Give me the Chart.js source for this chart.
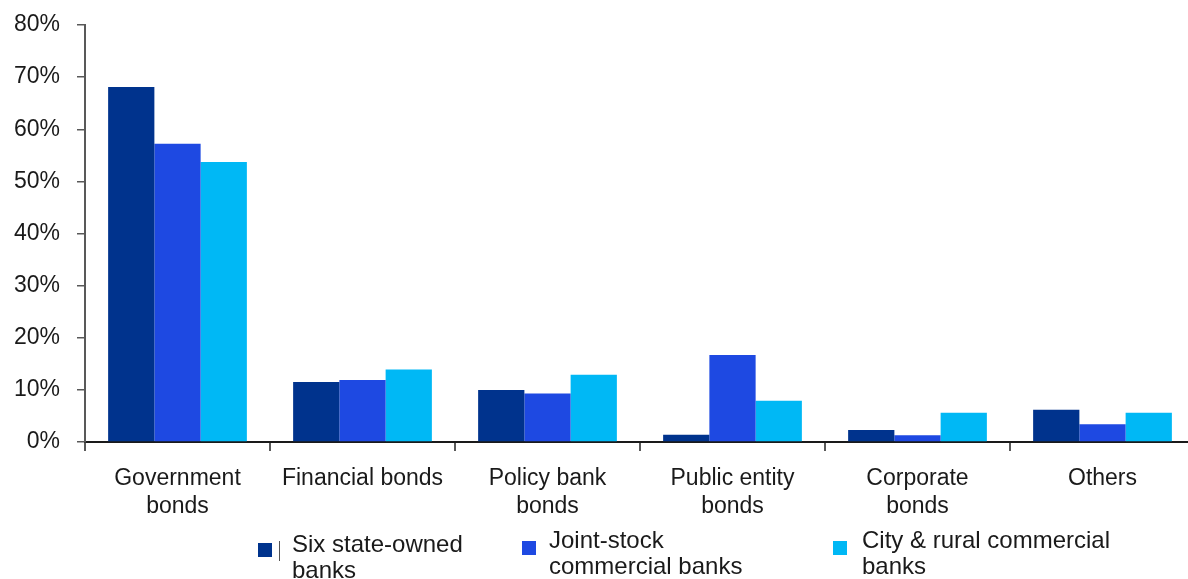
<!DOCTYPE html>
<html>
<head>
<meta charset="utf-8">
<script src="https://cdn.jsdelivr.net/npm/chart.js@4"></script>
<style>
    html, body { margin: 0; padding: 0; background: #fff; overflow: hidden; }
    .wrap { position: relative; width: 1196px; height: 579px; }
    .legend-item { position: absolute; font: 24px "Liberation Sans", Arial, sans-serif; color: #1a1a1a; line-height: 26px; }
    .legend-box { position: absolute; width: 14px; height: 14px; }
</style>
</head>
<body>
<div class="wrap">
    <canvas id="bondChart" width="1196" height="579"></canvas>

    <!-- legend -->
    <div class="legend-box" style="left:258px; top:543px; background:#00338D"></div>
    <div class="legend-box" style="left:279px; top:541px; width:1px; height:20px; background:#555"></div>
    <div class="legend-item" style="left:292px; top:531px">Six state-owned<br>banks</div>
    <div class="legend-box" style="left:522px; top:541px; background:#1E49E2"></div>
    <div class="legend-item" style="left:549px; top:527px">Joint-stock<br>commercial banks</div>
    <div class="legend-box" style="left:833px; top:541px; background:#00B8F5"></div>
    <div class="legend-item" style="left:862px; top:527px">City &amp; rural commercial<br>banks</div>
</div>

<script>
// Bond holdings by bank type, share of each group's bond portfolio (%)
const categories = [
    ['Government', 'bonds'],
    'Financial bonds',
    ['Policy bank', 'bonds'],
    ['Public entity', 'bonds'],
    ['Corporate', 'bonds'],
    'Others'
];
const sixStateOwned = [68.1, 11.5, 10.0, 1.4, 2.3, 6.2];
const jointStock = [57.2, 11.9, 9.3, 16.7, 1.3, 3.4];
const cityRural = [53.7, 13.9, 12.9, 7.9, 5.6, 5.6];
const yTicks = [0, 10, 20, 30, 40, 50, 60, 70, 80];

const axisFont = { family: '"Liberation Sans", Arial, sans-serif', size: 23, lineHeight: 1.2 };

document.addEventListener('DOMContentLoaded', function() {
    const ctx = document.getElementById('bondChart').getContext('2d');

    new Chart(ctx, {
        type: 'bar',
        data: {
            labels: categories,
            datasets: [
                { label: 'Six state-owned banks', data: sixStateOwned, backgroundColor: '#00338D' },
                { label: 'Joint-stock commercial banks', data: jointStock, backgroundColor: '#1E49E2' },
                { label: 'City & rural commercial banks', data: cityRural, backgroundColor: '#00B8F5' }
            ]
        },
        options: {
            responsive: false,
            animation: false,
            layout: { padding: { top: 25, right: 1, left: 0, bottom: 0 } },
            datasets: {
                bar: { categoryPercentage: 0.75, barPercentage: 1.0, borderWidth: 0 }
            },
            plugins: {
                legend: { display: false },
                tooltip: { enabled: false }
            },
            scales: {
                x: {
                    afterFit: function(scale) { scale.height = 137; },
                    border: { color: '#1a1a1a', width: 2 },
                    grid: {
                        offset: true,
                        drawOnChartArea: false,
                        tickLength: 9,
                        color: '#595959',
                        lineWidth: 2
                    },
                    ticks: {
                        color: '#1a1a1a',
                        font: axisFont,
                        padding: 14,
                        maxRotation: 0,
                        autoSkip: false
                    }
                },
                y: {
                    min: 0,
                    max: 80,
                    afterFit: function(scale) {
                        // fixed axis width; top label may overhang the layout padding
                        scale.width = 85;
                        scale.paddingTop = 0;
                        scale.paddingBottom = 0;
                    },
                    afterBuildTicks: function(scale) {
                        scale.ticks = yTicks.map(v => ({ value: v }));
                    },
                    border: { color: '#595959', width: 2 },
                    grid: {
                        drawOnChartArea: false,
                        tickLength: 8,
                        color: '#595959',
                        lineWidth: 1.5
                    },
                    ticks: {
                        color: '#1a1a1a',
                        font: axisFont,
                        padding: 17,
                        callback: v => v + '%'
                    }
                }
            }
        }
    });
});
</script>
</body>
</html>
